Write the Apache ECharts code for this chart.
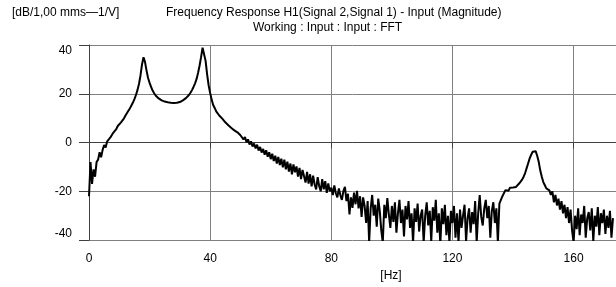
<!DOCTYPE html>
<html>
<head>
<meta charset="utf-8">
<script src="https://cdn.jsdelivr.net/npm/echarts@6/dist/echarts.min.js"></script>
<style>
html,body{margin:0;padding:0;background:#fff;}
#chart{width:616px;height:287px;}
</style>
</head>
<body>
<div id="chart"></div>
<script>
// Frequency bin spacing (Hz) and first bin
const binStart = 0;
const binStep = 0.5;
// Magnitude in dB, one value per bin (0 .. 173 Hz)
const magnitudeDb = [
  -22, -8, -17, -11, -14, -8, -7, -4, -6, -3, -1, -2, 0.5, 1, 2, 2.5, 4, 4.5, 5.5, 6.8,
  7.3, 8.2, 9, 9.8, 11, 12, 13, 14, 15.2, 16.4, 17.8, 19.5, 21.5, 24, 27.5, 32, 35, 33, 29.5, 26.5,
  24.5, 22.8, 21.3, 20.2, 19.3, 18.6, 18.1, 17.6, 17.3, 17, 16.8, 16.6, 16.5, 16.4, 16.3, 16.2, 16.2, 16.2, 16.3, 16.4,
  16.6, 16.9, 17.3, 17.7, 18.2, 18.8, 19.5, 20.4, 21.5, 22.8, 24.2, 26, 28.5, 31.5, 35, 38.9, 38.5, 33.5, 28, 23.5,
  20.3, 17.6, 15.4, 14.2, 12.8, 12.3, 11.1, 10.9, 9.8, 9.6, 8.3, 8.4, 7.1, 7.3, 6.0, 6.3, 5.0, 5.3, 4.2, 4.4,
  3.0, 3.4, 1.3, 2.3, 0.1, 1.3, -0.8, 0.5, -1.6, -0.4, -2.4, -0.9, -3.3, -1.8, -4.1, -2.6, -5.0, -3.2, -5.8, -4.0,
  -6.8, -4.6, -7.6, -5.4, -8.6, -5.9, -9.2, -6.6, -10.2, -7.0, -11.0, -7.8, -11.9, -8.6, -13.0, -9.0, -12.2, -9.8, -14.0, -10.4,
  -15.0, -11.2, -13.8, -16.4, -12.0, -16.8, -13.0, -18.0, -13.6, -17.2, -19.2, -14.2, -17.8, -20.0, -15.0, -19.2, -15.8, -20.6, -16.8, -20.0,
  -18.5, -21.5, -17.6, -20.8, -22.5, -18.8, -21.6, -23.5, -19.8, -18.2, -24, -21, -29.5, -22.5, -26.8, -20.5, -25.3, -19.8, -27, -22,
  -30.5, -22.5, -26, -33, -24, -41, -27, -21.5, -30, -25.5, -34.5, -23, -28, -36, -41, -25.5, -31, -22.8, -29.5, -35,
  -26, -32.5, -24.5, -37, -29, -23.5, -33, -27.5, -38.5, -26, -31.5, -24, -35, -29, -41, -27, -32.5, -25, -36.5, -30,
  -27.5, -41, -30, -24.5, -34, -28, -40.5, -26.5, -32, -23.5, -37, -29, -42, -27, -33.5, -25.5, -38, -30, -41, -28,
  -33, -26, -39, -29, -41, -27.5, -35, -30, -25.5, -40.5, -31, -27, -37, -28.5, -33.5, -24, -41, -29, -21.5, -30.5,
  -34, -27, -23.5, -31, -26, -39, -28, -24.5, -33, -27, -41, -25, -23.5, -22, -21.5, -19.5, -19, -19.8, -18.5, -19.3,
  -18.4, -19.2, -18.2, -17.5, -16.8, -16, -15.2, -14, -12.5, -10.5, -8.5, -6.5, -5, -3.8, -3.1, -3.6, -5.5, -8, -11.5, -14,
  -16.2, -17.5, -18.8, -18, -19.6, -21.5, -20, -24.5, -21.5, -25.8, -23, -27.5, -24, -29, -25.5, -31, -26.5, -33, -27.5, -36,
  -41, -30, -35.5, -27, -38, -29.5, -33, -26, -39, -31, -28.5, -36, -27, -40.5, -30, -34.5, -26.5, -38, -29, -33,
  -27.5, -37.5, -30, -35, -28, -39, -31
];
const xTicks = [0, 40, 80, 120, 160];
const yTicks = [-40, -20, 0, 20, 40];
const titleLine1 = 'Frequency Response H1(Signal 2,Signal 1) - Input (Magnitude)';
const titleLine2 = 'Working : Input : Input : FFT';
const yUnit = '[dB/1,00 mms\u20141/V]';
const xUnit = '[Hz]';

const seriesData = magnitudeDb.map((v, i) => [binStart + i * binStep, v]);

const FONT = "'Liberation Sans', Arial, sans-serif";
const chart = echarts.init(document.getElementById('chart'), null, {renderer: 'canvas'});
chart.setOption({
  animation: false,
  backgroundColor: '#ffffff',
  title: [
    {text: yUnit, left: 12, top: 7, padding: 0,
     textStyle: {fontFamily: FONT, fontSize: 12, fontWeight: 'normal', color: '#000'}},
    {text: titleLine1, left: 166, top: 7, padding: 0,
     textStyle: {fontFamily: FONT, fontSize: 12, fontWeight: 'normal', color: '#000'}},
    {text: titleLine2, left: 253, top: 22, padding: 0,
     textStyle: {fontFamily: FONT, fontSize: 12, fontWeight: 'normal', color: '#000'}}
  ],
  grid: {left: 89, right: 0, top: 45, bottom: 43.5, containLabel: false},
  xAxis: {
    type: 'value', min: xTicks[0], max: 174, interval: 40,
    name: xUnit, nameLocation: 'middle', nameGap: 27,
    nameTextStyle: {fontFamily: FONT, fontSize: 12, color: '#000', padding: [0, 0, 0, 77]},
    axisLine: {show: true, lineStyle: {color: '#404040', width: 1}},
    axisTick: {show: true, length: 6, lineStyle: {color: '#404040'}},
    axisLabel: {fontFamily: FONT, fontSize: 12, color: '#000', margin: 13,
      showMaxLabel: false},
    splitLine: {show: true, lineStyle: {color: '#808080', width: 1}}
  },
  yAxis: {
    type: 'value', min: yTicks[0], max: yTicks[yTicks.length - 1], interval: 20, offset: 2,
    axisLine: {show: true, lineStyle: {color: '#404040', width: 1}},
    axisTick: {show: true, length: 10, lineStyle: {color: '#404040'}},
    axisLabel: {fontFamily: FONT, fontSize: 12, color: '#000', margin: 15,
      verticalAlignMaxLabel: 'top', verticalAlignMinLabel: 'bottom'},
    splitLine: {show: true, lineStyle: {color: '#808080', width: 1}}
  },
  series: [{
    type: 'line', data: seriesData, showSymbol: false, symbol: 'none',
    clip: true,
    lineStyle: {color: '#000', width: 2},
    z: 5
  }]
});
</script>
</body>
</html>
